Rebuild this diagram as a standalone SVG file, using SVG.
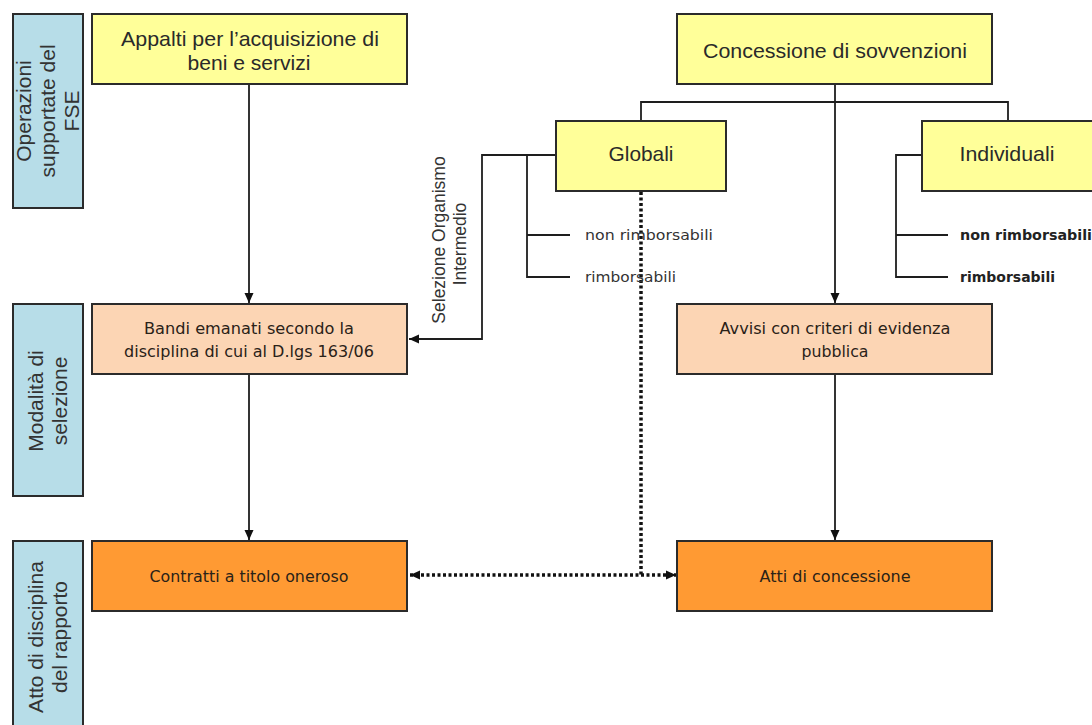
<svg xmlns="http://www.w3.org/2000/svg" width="1092" height="725" viewBox="0 0 1092 725">
<style>
.lab{fill:#b7dde8;stroke:#2b2b2b;stroke-width:2}
.y{fill:#ffff99;stroke:#2b2b2b;stroke-width:2}
.p{fill:#fcd5b4;stroke:#2b2b2b;stroke-width:2}
.o{fill:#ff9a33;stroke:#2b2b2b;stroke-width:2}
.lt{font-family:"Liberation Sans",Arial,sans-serif;font-size:21px;fill:#333;text-anchor:middle}
.bt{font-family:"Liberation Sans",Arial,sans-serif;font-size:21px;fill:#2a2a2a;text-anchor:middle}
.st{font-family:"DejaVu Sans",Verdana,sans-serif;font-size:15.5px;fill:#2a2218;text-anchor:middle}
.sm{font-family:"DejaVu Sans",Verdana,sans-serif;font-size:14.5px;fill:#333}
.smb{font-family:"DejaVu Sans",Verdana,sans-serif;font-size:14px;font-weight:bold;fill:#222}
.sel{font-family:"Liberation Sans",Arial,sans-serif;font-size:17.5px;fill:#333;text-anchor:middle}
.ln{fill:none;stroke:#1e1e1e;stroke-width:1.8}
.dot{fill:none;stroke:#111;stroke-width:3.5;stroke-dasharray:3 2.5}
</style>
<defs>
<marker id="ah" markerUnits="userSpaceOnUse" markerWidth="12" markerHeight="12" viewBox="0 0 12 12" refX="11" refY="6" orient="auto">
<path d="M1,1.5 L11,6 L1,10.5 Z" fill="#111"/>
</marker>
<marker id="ahs" markerUnits="userSpaceOnUse" markerWidth="12" markerHeight="12" viewBox="0 0 12 12" refX="11" refY="6" orient="auto-start-reverse">
<path d="M1,1.5 L11,6 L1,10.5 Z" fill="#111"/>
</marker>
</defs>
<rect width="1092" height="725" fill="#fff"/>

<g id="label-operazioni">
<rect class="lab" x="13" y="14" width="70" height="194"/>
<text class="lt" transform="translate(31,111) rotate(-90)">Operazioni</text>
<text class="lt" transform="translate(55,111) rotate(-90)">supportate del</text>
<text class="lt" transform="translate(79,111) rotate(-90)">FSE</text>
</g>
<g id="label-modalita">
<rect class="lab" x="13" y="304" width="70" height="192"/>
<text class="lt" transform="translate(43,401) rotate(-90)">Modalità di</text>
<text class="lt" transform="translate(67,401) rotate(-90)">selezione</text>
</g>
<g id="label-atto">
<rect class="lab" x="13" y="541" width="70" height="194"/>
<text class="lt" transform="translate(43,637) rotate(-90)">Atto di disciplina</text>
<text class="lt" transform="translate(67,637) rotate(-90)">del rapporto</text>
</g>

<g id="connectors">
<line class="ln" x1="249" y1="84" x2="249" y2="303" marker-end="url(#ah)"/>
<line class="ln" x1="249" y1="374" x2="249" y2="540" marker-end="url(#ah)"/>
<line class="ln" x1="835" y1="84" x2="835" y2="303" marker-end="url(#ah)"/>
<line class="ln" x1="835" y1="374" x2="835" y2="540" marker-end="url(#ah)"/>
<polyline class="ln" points="641,121 641,102 1008,102 1008,121"/>
<polyline class="ln" points="556,155 482,155 482,339 409,339" marker-end="url(#ah)"/>
<polyline class="ln" points="556,155 527,155 527,277 570,277"/>
<line class="ln" x1="527" y1="235" x2="570" y2="235"/>
<polyline class="ln" points="922,155 896,155 896,277 948,277"/>
<line class="ln" x1="896" y1="235" x2="948" y2="235"/>
<line class="dot" x1="641" y1="192" x2="641" y2="575"/>
<line class="dot" x1="410" y1="575" x2="676" y2="575" marker-start="url(#ahs)" marker-end="url(#ah)"/>
<text class="sel" transform="translate(445,240) rotate(-90)">Selezione Organismo</text>
<text class="sel" transform="translate(466,244) rotate(-90)">Intermedio</text>
</g>

<g id="appalti">
<rect class="y" x="92" y="14" width="315" height="70"/>
<text class="bt" x="250" y="46" textLength="258" lengthAdjust="spacingAndGlyphs">Appalti per l’acquisizione di</text>
<text class="bt" x="249" y="70" textLength="123" lengthAdjust="spacingAndGlyphs">beni e servizi</text>
</g>
<g id="concessione">
<rect class="y" x="677" y="14" width="315" height="70"/>
<text class="bt" x="835" y="58" textLength="264" lengthAdjust="spacingAndGlyphs">Concessione di sovvenzioni</text>
</g>
<g id="globali">
<rect class="y" x="556" y="121" width="170" height="70"/>
<text class="bt" x="641" y="161" textLength="65" lengthAdjust="spacingAndGlyphs">Globali</text>
<text class="sm" x="585" y="240" textLength="128" lengthAdjust="spacingAndGlyphs">non rimborsabili</text>
<text class="sm" x="585" y="282" textLength="91" lengthAdjust="spacingAndGlyphs">rimborsabili</text>
</g>
<g id="individuali">
<rect class="y" x="922" y="121" width="172" height="70"/>
<text class="bt" x="1007" y="161" textLength="95" lengthAdjust="spacingAndGlyphs">Individuali</text>
<text class="smb" x="960" y="240" textLength="132" lengthAdjust="spacingAndGlyphs">non rimborsabili</text>
<text class="smb" x="960" y="282" textLength="95" lengthAdjust="spacingAndGlyphs">rimborsabili</text>
</g>
<g id="bandi">
<rect class="p" x="92" y="304" width="315" height="70"/>
<text class="st" x="249" y="334" textLength="210" lengthAdjust="spacingAndGlyphs">Bandi emanati secondo la</text>
<text class="st" x="249" y="357" textLength="250" lengthAdjust="spacingAndGlyphs">disciplina di cui al D.lgs 163/06</text>
</g>
<g id="avvisi">
<rect class="p" x="677" y="304" width="315" height="70"/>
<text class="st" x="835" y="334" textLength="231" lengthAdjust="spacingAndGlyphs">Avvisi con criteri di evidenza</text>
<text class="st" x="835" y="357" textLength="67" lengthAdjust="spacingAndGlyphs">pubblica</text>
</g>
<g id="contratti">
<rect class="o" x="92" y="541" width="315" height="70"/>
<text class="st" x="249" y="582" textLength="199" lengthAdjust="spacingAndGlyphs">Contratti a titolo oneroso</text>
</g>
<g id="atti">
<rect class="o" x="677" y="541" width="315" height="70"/>
<text class="st" x="835" y="582" textLength="151" lengthAdjust="spacingAndGlyphs">Atti di concessione</text>
</g>
</svg>
